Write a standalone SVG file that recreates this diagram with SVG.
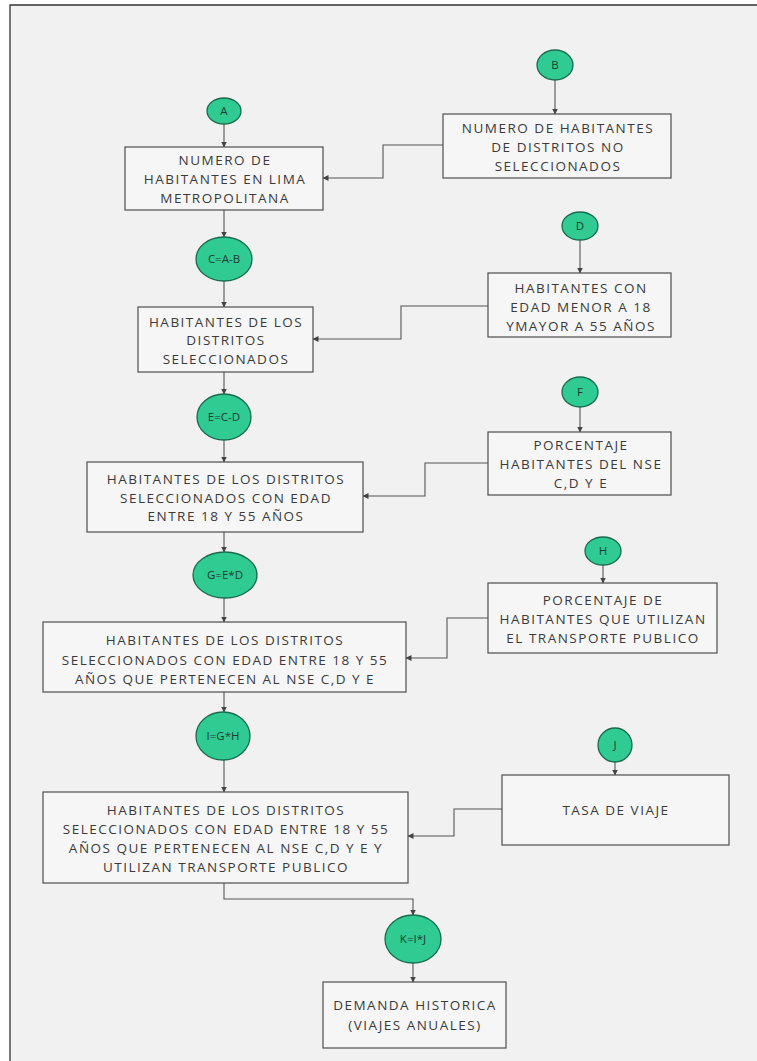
<svg xmlns="http://www.w3.org/2000/svg" width="757" height="1061" viewBox="0 0 757 1061">
<defs>
<marker id="arr" markerWidth="6" markerHeight="6" refX="5.5" refY="3" orient="auto" markerUnits="userSpaceOnUse">
<path d="M0,0 L6,3 L0,6 Z" fill="#444"/>
</marker>
<style>
.box{fill:#f6f6f6;stroke:#4d4d4d;stroke-width:1.2}
.circ{fill:#2fcb93;stroke:#1c6a4e;stroke-width:1.3}
.t{font-family:"Open Sans","Liberation Sans",sans-serif;font-size:13.5px;fill:#3a3a3a;text-anchor:middle;letter-spacing:1.5px}
.ct{font-family:"Open Sans","Liberation Sans",sans-serif;font-size:11.5px;fill:#1d3b2f;text-anchor:middle}
.c{fill:none;stroke:#555;stroke-width:1.1}
</style>
</defs>
<rect x="0" y="0" width="757" height="1061" fill="#ffffff"/>
<rect x="10" y="5" width="747" height="1056" fill="#f1f1f1"/>
<path d="M10,1061 L10,5 L757,5" fill="none" stroke="#333" stroke-width="1.3"/>

<g id="connectors">
<path class="c" d="M224,124 L224,147" marker-end="url(#arr)"/>
<path class="c" d="M555,80 L555,114" marker-end="url(#arr)"/>
<path class="c" d="M443,145 L383,145 L383,178 L323,178" marker-end="url(#arr)"/>
<path class="c" d="M224,210 L224,237" marker-end="url(#arr)"/>
<path class="c" d="M580,240 L580,273" marker-end="url(#arr)"/>
<path class="c" d="M488,306 L401,306 L401,339 L313,339" marker-end="url(#arr)"/>
<path class="c" d="M224,281 L224,307" marker-end="url(#arr)"/>
<path class="c" d="M224,372 L224,394" marker-end="url(#arr)"/>
<path class="c" d="M580,407 L580,432" marker-end="url(#arr)"/>
<path class="c" d="M488,463 L425,463 L425,496 L363,496" marker-end="url(#arr)"/>
<path class="c" d="M224,440 L224,462" marker-end="url(#arr)"/>
<path class="c" d="M224,532 L224,552" marker-end="url(#arr)"/>
<path class="c" d="M603,565 L603,583" marker-end="url(#arr)"/>
<path class="c" d="M488,618 L447,618 L447,658 L406,658" marker-end="url(#arr)"/>
<path class="c" d="M224,598 L224,622" marker-end="url(#arr)"/>
<path class="c" d="M224,692 L224,712" marker-end="url(#arr)"/>
<path class="c" d="M224,760 L224,792" marker-end="url(#arr)"/>
<path class="c" d="M615,762 L615,775" marker-end="url(#arr)"/>
<path class="c" d="M502,809 L454,809 L454,836 L408,836" marker-end="url(#arr)"/>
<path class="c" d="M224,883 L224,899 L413,899 L413,915" marker-end="url(#arr)"/>
<path class="c" d="M413,963 L413,982" marker-end="url(#arr)"/>
</g>

<g id="nodeA"><ellipse class="circ" cx="224" cy="111" rx="17" ry="13"/><text class="ct" x="224" y="115">A</text></g>
<g id="nodeB"><ellipse class="circ" cx="555" cy="65" rx="18" ry="15"/><text class="ct" x="555" y="69">B</text></g>
<g id="box1"><rect class="box" x="125" y="147" width="198" height="63"/>
<text class="t" x="225" y="165">NUMERO DE</text>
<text class="t" x="225" y="184">HABITANTES EN LIMA</text>
<text class="t" x="225" y="203">METROPOLITANA</text></g>
<g id="boxB"><rect class="box" x="443" y="114" width="228" height="64"/>
<text class="t" x="558" y="133">NUMERO DE HABITANTES</text>
<text class="t" x="558" y="152">DE DISTRITOS NO</text>
<text class="t" x="558" y="171">SELECCIONADOS</text></g>
<g id="nodeC"><ellipse class="circ" cx="224" cy="259" rx="28" ry="22"/><text class="ct" x="224" y="263">C=A-B</text></g>
<g id="nodeD"><ellipse class="circ" cx="580" cy="226" rx="18" ry="14"/><text class="ct" x="580" y="230">D</text></g>
<g id="boxD"><rect class="box" x="488" y="273" width="183" height="64"/>
<text class="t" x="581" y="293">HABITANTES CON</text>
<text class="t" x="581" y="312">EDAD MENOR A 18</text>
<text class="t" x="581" y="331">YMAYOR A 55 AÑOS</text></g>
<g id="box2"><rect class="box" x="138" y="307" width="175" height="65"/>
<text class="t" x="226" y="327">HABITANTES DE LOS</text>
<text class="t" x="226" y="345">DISTRITOS</text>
<text class="t" x="226" y="364">SELECCIONADOS</text></g>
<g id="nodeE"><ellipse class="circ" cx="224" cy="417" rx="27" ry="23"/><text class="ct" x="224" y="421">E=C-D</text></g>
<g id="nodeF"><ellipse class="circ" cx="580" cy="392" rx="18" ry="15"/><text class="ct" x="580" y="396">F</text></g>
<g id="boxF"><rect class="box" x="488" y="432" width="183" height="63"/>
<text class="t" x="581" y="450">PORCENTAJE</text>
<text class="t" x="581" y="469">HABITANTES DEL NSE</text>
<text class="t" x="581" y="488">C,D Y E</text></g>
<g id="box3"><rect class="box" x="87" y="462" width="276" height="70"/>
<text class="t" x="226" y="484">HABITANTES DE LOS DISTRITOS</text>
<text class="t" x="226" y="503">SELECCIONADOS CON EDAD</text>
<text class="t" x="226" y="521">ENTRE 18 Y 55 AÑOS</text></g>
<g id="nodeG"><ellipse class="circ" cx="225" cy="575" rx="32" ry="23"/><text class="ct" x="225" y="579">G=E*D</text></g>
<g id="nodeH"><ellipse class="circ" cx="603" cy="551" rx="18" ry="14"/><text class="ct" x="603" y="555">H</text></g>
<g id="boxH"><rect class="box" x="488" y="583" width="229" height="70"/>
<text class="t" x="603" y="605">PORCENTAJE DE</text>
<text class="t" x="603" y="624">HABITANTES QUE UTILIZAN</text>
<text class="t" x="603" y="643">EL TRANSPORTE PUBLICO</text></g>
<g id="box4"><rect class="box" x="43" y="622" width="363" height="70"/>
<text class="t" x="225" y="645">HABITANTES DE LOS DISTRITOS</text>
<text class="t" x="225" y="665">SELECCIONADOS CON EDAD ENTRE 18 Y 55</text>
<text class="t" x="225" y="684">AÑOS QUE PERTENECEN AL NSE C,D Y E</text></g>
<g id="nodeI"><ellipse class="circ" cx="223" cy="736" rx="27" ry="24"/><text class="ct" x="223" y="740">I=G*H</text></g>
<g id="nodeJ"><ellipse class="circ" cx="615" cy="745" rx="17" ry="17"/><text class="ct" x="615" y="749">J</text></g>
<g id="boxJ"><rect class="box" x="502" y="775" width="227" height="70"/>
<text class="t" x="616" y="815">TASA DE VIAJE</text></g>
<g id="box5"><rect class="box" x="43" y="792" width="365" height="91"/>
<text class="t" x="226" y="815">HABITANTES DE LOS DISTRITOS</text>
<text class="t" x="226" y="834">SELECCIONADOS CON EDAD ENTRE 18 Y 55</text>
<text class="t" x="226" y="853">AÑOS QUE PERTENECEN AL NSE C,D Y E Y</text>
<text class="t" x="226" y="872">UTILIZAN TRANSPORTE PUBLICO</text></g>
<g id="nodeK"><ellipse class="circ" cx="413" cy="939" rx="28" ry="24"/><text class="ct" x="413" y="943">K=I*J</text></g>
<g id="box6"><rect class="box" x="323" y="982" width="183" height="66"/>
<text class="t" x="415" y="1010">DEMANDA HISTORICA</text>
<text class="t" x="415" y="1030">(VIAJES ANUALES)</text></g>
</svg>
